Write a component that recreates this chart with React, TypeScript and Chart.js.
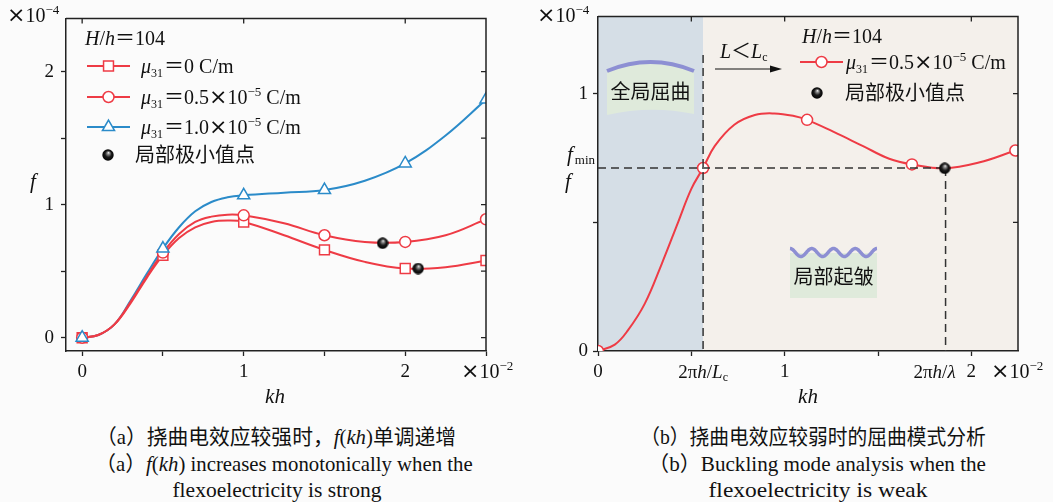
import React, { useEffect, useLayoutEffect, useRef } from 'react';
import { Chart, registerables } from 'chart.js';
import { drawPoint } from 'chart.js/helpers';

Chart.register(...registerables);

const SERIF = '"Liberation Serif", "Times New Roman", serif';
const CJK = '"Noto Sans CJK SC", "Noto Sans CJK JP", sans-serif';
const TIMES_FONT = '"DejaVu Sans", sans-serif';
const RED = '#ee3b45';
const BLUE = '#2b8bc9';
const AXIS = '#222222';
const WAVE = '#8d8fd3';
const GREEN = '#dfeadb';

// ---------- Panel (a): kh (×10^-2) vs f (×10^-4) ----------
const markerKhA = [0, 0.5, 1, 1.5, 2, 2.5];
const markerFmu0 = [0, 0.62, 0.87, 0.66, 0.52, 0.58];
const markerFmu05 = [0, 0.64, 0.92, 0.77, 0.72, 0.89];
const markerFmu10 = [0, 0.67, 1.07, 1.11, 1.31, 1.79];
const curveKhA = [0, 0.1, 0.2, 0.3, 0.4, 0.5, 0.6, 0.7, 0.8, 0.9, 1.0, 1.25, 1.5, 1.75, 2.0, 2.25, 2.5];
const curveFmu0 = [0, 0.02, 0.1, 0.26, 0.45, 0.62, 0.75, 0.83, 0.87, 0.88, 0.87, 0.77, 0.66, 0.57, 0.52, 0.53, 0.58];
const curveFmu05 = [0, 0.02, 0.1, 0.27, 0.46, 0.64, 0.78, 0.87, 0.91, 0.925, 0.92, 0.86, 0.77, 0.72, 0.72, 0.77, 0.89];
const curveFmu10 = [0, 0.02, 0.1, 0.28, 0.48, 0.67, 0.83, 0.95, 1.02, 1.055, 1.07, 1.09, 1.11, 1.18, 1.31, 1.52, 1.79];
const minKhA = [1.86, 2.08];
const minFA = [0.71, 0.52];
const xTicksA = [0, 0.5, 1, 1.5, 2, 2.5];
const xLabelsA = ['0', '', '1', '', '2', ''];
const topTicksA = [0, 1, 2];
const yTicksA = [0, 0.5, 1, 1.5, 2];
const yLabelsA = ['0', '', '1', '', '2'];

// ---------- Panel (b) ----------
const curveKhB = [0, 0.09, 0.16, 0.25, 0.34, 0.43, 0.5, 0.563, 0.625, 0.73, 0.84, 0.945, 1.05, 1.12, 1.26, 1.42, 1.56, 1.682, 1.857, 2.04, 2.236];
const curveFB = [0, 0.025, 0.08, 0.183, 0.336, 0.502, 0.63, 0.711, 0.796, 0.879, 0.917, 0.923, 0.913, 0.898, 0.852, 0.796, 0.747, 0.725, 0.71, 0.732, 0.779];
const markerKhB = [0, 0.563, 1.12, 1.682, 2.236];
const markerFB = [0, 0.711, 0.898, 0.725, 0.779];
const minKhB = [1.857];
const minFB = [0.71];
const khLc = 0.563;
const khLambda = 1.862;
const fMin = 0.711;
const xTicksB = [0, 0.5, 1, 1.5, 2];
const xLabelsB = ['0', '', '1', '', '2'];
const topTicksB = [0.5, 1, 2];
const yTicksB = [0, 0.5, 1];
const yLabelsB = ['0', '', '1'];
const rightTicksB = [0.5, 1];

const captions = [
  { cx: 276, cy: 437, w: 360, key: 'a1' },
  { cx: 284, cy: 464, w: 377, key: 'a2' },
  { cx: 277, cy: 490, w: 209, key: 'a3' },
  { cx: 813, cy: 437, w: 346, key: 'b1' },
  { cx: 817, cy: 464, w: 338, key: 'b2' },
  { cx: 818, cy: 490, w: 219, key: 'b3' },
];

const pts = (xs: number[], ys: number[]) => xs.map((x, i) => ({ x, y: ys[i] }));
const fs = (size: number, italic = false) => `${italic ? 'italic ' : ''}${size}px ${SERIF}`;
const fc = (size: number) => `${size}px ${CJK}`;

type Seg = { t: string; f: string; dy?: number; dx?: number };

function drawRich(ctx: CanvasRenderingContext2D, x: number, y: number, segs: Seg[], align = 'left') {
  ctx.save();
  ctx.textBaseline = 'alphabetic';
  ctx.textAlign = 'left';
  ctx.fillStyle = '#111';
  let w = 0;
  for (const s of segs) {
    ctx.font = s.f;
    w += ctx.measureText(s.t).width + (s.dx || 0);
  }
  let cx = align === 'center' ? x - w / 2 : align === 'right' ? x - w : x;
  for (const s of segs) {
    ctx.font = s.f;
    cx += s.dx || 0;
    ctx.fillText(s.t, cx, y + (s.dy || 0));
    cx += ctx.measureText(s.t).width;
  }
  ctx.restore();
}

const muSegs = (val: Seg[]): Seg[] => [
  { t: 'μ', f: fs(20, true) },
  { t: '31', f: fs(12), dy: 4 },
  { t: '＝', f: fc(20), dx: 1 },
  ...val,
];
const expSegs = (mant: string, exp: string): Seg[] => [
  ...(mant ? [{ t: mant, f: fs(20) }] : []),
  { t: '×', f: `22px ${TIMES_FONT}`, dy: 0 },
  { t: '10', f: fs(20) },
  { t: exp, f: fs(13), dy: -8 },
];
const hhSegs: Seg[] = [
  { t: 'H', f: fs(20, true) },
  { t: '/', f: fs(20) },
  { t: 'h', f: fs(20, true) },
  { t: '＝', f: fc(20) },
  { t: '104', f: fs(20) },
];

function makeBall(d: number) {
  const c = document.createElement('canvas');
  c.width = d;
  c.height = d;
  const g = c.getContext('2d')!;
  const r = d / 2;
  const grad = g.createRadialGradient(r * 1.1, r * 0.6, 0, r, r, r);
  grad.addColorStop(0, '#f4f4f4');
  grad.addColorStop(0.22, '#8a8a8a');
  grad.addColorStop(0.55, '#1a1a1a');
  grad.addColorStop(1, '#000');
  g.fillStyle = grad;
  g.beginPath();
  g.arc(r, r, r - 0.3, 0, Math.PI * 2);
  g.fill();
  return c;
}

function legendMarker(ctx: CanvasRenderingContext2D, x0: number, x1: number, y: number, color: string, style: string, radius: number) {
  ctx.save();
  ctx.strokeStyle = color;
  ctx.lineWidth = 2;
  ctx.beginPath();
  ctx.moveTo(x0, y);
  ctx.lineTo(x1, y);
  ctx.stroke();
  ctx.fillStyle = '#fff';
  ctx.lineWidth = 1.5;
  drawPoint(ctx, { pointStyle: style as any, radius, rotation: 0, borderWidth: 1.5 }, (x0 + x1) / 2, y);
  ctx.restore();
}

function frameAndTicks(chart: any, topTicks: number[], rightTicks: number[]) {
  const { ctx, chartArea: a, scales } = chart;
  ctx.save();
  ctx.strokeStyle = AXIS;
  ctx.lineWidth = 1.5;
  ctx.beginPath();
  ctx.moveTo(a.left, a.top);
  ctx.lineTo(a.right, a.top);
  ctx.lineTo(a.right, a.bottom);
  ctx.stroke();
  ctx.lineWidth = 1.3;
  ctx.beginPath();
  for (const v of topTicks) {
    const px = scales.x.getPixelForValue(v);
    ctx.moveTo(px, a.top);
    ctx.lineTo(px, a.top + 5);
  }
  for (const v of rightTicks) {
    const py = scales.y.getPixelForValue(v);
    ctx.moveTo(a.right, py);
    ctx.lineTo(a.right - 5, py);
  }
  ctx.stroke();
  ctx.restore();
}

function axisScales(o: {
  xmin: number; xmax: number; ymin: number; ymax: number;
  xt: number[]; xl: string[]; yt: number[]; yl: string[]; yw: number; ypad: number;
}) {
  const tickFont = { family: SERIF, size: 19 };
  return {
    x: {
      type: 'linear',
      min: o.xmin,
      max: o.xmax,
      afterBuildTicks: (s: any) => { s.ticks = o.xt.map((v) => ({ value: v })); },
      afterFit: (s: any) => { s.height = 59; },
      ticks: {
        callback: (v: number) => { const i = o.xt.indexOf(v); return i >= 0 ? o.xl[i] : ''; },
        font: tickFont, color: '#111', padding: 5, maxRotation: 0, autoSkip: false,
      },
      grid: { drawOnChartArea: false, tickLength: 5, color: AXIS, tickWidth: 1.3 },
      border: { color: AXIS, width: 1.5 },
    },
    y: {
      type: 'linear',
      min: o.ymin,
      max: o.ymax,
      afterBuildTicks: (s: any) => { s.ticks = o.yt.map((v) => ({ value: v })); },
      afterFit: (s: any) => { s.width = o.yw; },
      ticks: {
        callback: (v: number) => { const i = o.yt.indexOf(v); return i >= 0 ? o.yl[i] : ''; },
        font: tickFont, color: '#111', padding: o.ypad, autoSkip: false,
      },
      grid: { drawOnChartArea: false, tickLength: 5, color: AXIS, tickWidth: 1.3 },
      border: { color: AXIS, width: 1.5 },
    },
  };
}

function LeftChart() {
  const ref = useRef<HTMLCanvasElement>(null);
  useEffect(() => {
    const ball = makeBall(12);
    const plugin = {
      id: 'decoA',
      afterDraw(chart: any) {
        const ctx = chart.ctx as CanvasRenderingContext2D;
        frameAndTicks(chart, topTicksA, yTicksA);
        drawRich(ctx, 7, 22, expSegs('', '−4'));
        drawRich(ctx, 461, 378, expSegs('', '−2'));
        drawRich(ctx, 275, 403, [{ t: 'kh', f: fs(21, true) }], 'center');
        drawRich(ctx, 30, 188, [{ t: 'f', f: fs(21, true) }]);
        drawRich(ctx, 85, 45, hhSegs);
        legendMarker(ctx, 87, 130, 66, RED, 'rect', 7);
        drawRich(ctx, 141, 73, muSegs([{ t: '0 C/m', f: fs(20) }]));
        legendMarker(ctx, 87, 130, 97, RED, 'circle', 5.5);
        drawRich(ctx, 141, 104, muSegs([...expSegs('0.5', '−5'), { t: ' C/m', f: fs(20) }]));
        legendMarker(ctx, 87, 130, 127, BLUE, 'triangle', 7);
        drawRich(ctx, 141, 134, muSegs([...expSegs('1.0', '−5'), { t: ' C/m', f: fs(20) }]));
        ctx.drawImage(ball, 102, 149);
        drawRich(ctx, 135, 162, [{ t: '局部极小值点', f: fc(20) }]);
      },
    };
    const markerDs = (xs: number[], ys: number[], color: string, style: string, r: number, order: number) => ({
      data: pts(xs, ys), showLine: false, pointStyle: style, pointRadius: r,
      pointBorderColor: color, pointBackgroundColor: '#fff', pointBorderWidth: 1.5,
      borderColor: color, order, clip: 0,
    });
    const curveDs = (xs: number[], ys: number[], color: string, order: number) => ({
      data: pts(xs, ys), borderColor: color, borderWidth: 2, pointRadius: 0,
      tension: 0.4, fill: false, order, clip: 0,
    });
    const chart = new Chart(ref.current!, {
      type: 'line',
      data: {
        datasets: [
          { data: pts(minKhA, minFA), showLine: false, pointStyle: ball, pointRadius: 6, order: 0 },
          markerDs(markerKhA, markerFmu10, BLUE, 'triangle', 7, 1),
          markerDs(markerKhA, markerFmu05, RED, 'circle', 5.5, 2),
          markerDs(markerKhA, markerFmu0, RED, 'rect', 7, 3),
          curveDs(curveKhA, curveFmu0, RED, 4),
          curveDs(curveKhA, curveFmu05, RED, 5),
          curveDs(curveKhA, curveFmu10, BLUE, 6),
        ] as any,
      },
      options: {
        responsive: false,
        animation: false,
        events: [],
        layout: { padding: { left: 0, top: 13, right: 44, bottom: 0 } },
        plugins: { legend: { display: false }, tooltip: { enabled: false } },
        scales: axisScales({
          xmin: -0.1, xmax: 2.5, ymin: -0.1, ymax: 2.4,
          xt: xTicksA, xl: xLabelsA, yt: yTicksA, yl: yLabelsA, yw: 66, ypad: 7,
        }) as any,
      },
      plugins: [plugin],
    });
    return () => chart.destroy();
  }, []);
  return <canvas ref={ref} width={530} height={410} style={{ position: 'absolute', left: 0, top: 0, width: 530, height: 410 }} />;
}

function RightChart() {
  const ref = useRef<HTMLCanvasElement>(null);
  useEffect(() => {
    const ball = makeBall(12);
    const plugin = {
      id: 'decoB',
      beforeDraw(chart: any) {
        const { ctx, chartArea: a, scales } = chart;
        const xl = scales.x.getPixelForValue(khLc);
        ctx.save();
        ctx.fillStyle = '#d5dee6';
        ctx.fillRect(a.left, a.top, xl - a.left, a.bottom - a.top);
        ctx.fillStyle = '#f4f0eb';
        ctx.fillRect(xl, a.top, a.right - xl, a.bottom - a.top);
        // global buckling box
        ctx.fillStyle = GREEN;
        ctx.beginPath();
        ctx.moveTo(77, 71);
        ctx.quadraticCurveTo(120.5, 53, 164, 71);
        ctx.lineTo(164, 114);
        ctx.quadraticCurveTo(120.5, 105, 77, 115);
        ctx.closePath();
        ctx.fill();
        ctx.strokeStyle = WAVE;
        ctx.lineWidth = 4;
        ctx.beginPath();
        ctx.moveTo(77, 71);
        ctx.quadraticCurveTo(120.5, 53, 164, 71);
        ctx.stroke();
        // local wrinkling box
        ctx.fillStyle = GREEN;
        ctx.fillRect(260, 253, 87, 45);
        ctx.strokeStyle = WAVE;
        ctx.lineWidth = 3.5;
        ctx.beginPath();
        for (let x = 260; x <= 347; x += 0.5) {
          const y = 252.5 - 4 * Math.cos((2 * Math.PI * (x - 260)) / 21.75);
          if (x === 260) ctx.moveTo(x, y); else ctx.lineTo(x, y);
        }
        ctx.stroke();
        ctx.restore();
        drawRich(ctx, 120.5, 99, [{ t: '全局屈曲', f: fc(20) }], 'center');
        drawRich(ctx, 303.5, 284, [{ t: '局部起皱', f: fc(20) }], 'center');
      },
      beforeDatasetDraw(chart: any, args: any) {
        if (args.index !== 0) return;
        const { ctx, chartArea: a, scales } = chart;
        const x1 = scales.x.getPixelForValue(khLc);
        const x2 = scales.x.getPixelForValue(khLambda);
        const yf = scales.y.getPixelForValue(fMin);
        ctx.save();
        ctx.strokeStyle = '#333';
        ctx.lineWidth = 1.5;
        ctx.setLineDash([8, 5]);
        ctx.beginPath();
        ctx.moveTo(x1, scales.y.getPixelForValue(1.15));
        ctx.lineTo(x1, a.bottom);
        ctx.moveTo(a.left, yf);
        ctx.lineTo(x2, yf);
        ctx.moveTo(x2, yf);
        ctx.lineTo(x2, a.bottom);
        ctx.stroke();
        ctx.restore();
      },
      afterDraw(chart: any) {
        const ctx = chart.ctx as CanvasRenderingContext2D;
        frameAndTicks(chart, topTicksB, rightTicksB);
        drawRich(ctx, 7, 22, expSegs('', '−4'));
        drawRich(ctx, 461, 378, expSegs('', '−2'));
        drawRich(ctx, 278, 403, [{ t: 'kh', f: fs(21, true) }], 'center');
        drawRich(ctx, 35, 188, [{ t: 'f', f: fs(21, true) }]);
        drawRich(ctx, 37, 161, [{ t: 'f', f: fs(21, true) }, { t: 'min', f: fs(13), dy: 3, dx: 2 }]);
        const xs = chart.scales.x;
        drawRich(ctx, xs.getPixelForValue(khLc), 378, [
          { t: '2π', f: fs(19) }, { t: 'h', f: fs(19, true) }, { t: '/', f: fs(19) },
          { t: 'L', f: fs(19, true) }, { t: 'c', f: fs(12), dy: 3 },
        ], 'center');
        drawRich(ctx, xs.getPixelForValue(khLambda) - 11, 378, [
          { t: '2π', f: fs(19) }, { t: 'h', f: fs(19, true) }, { t: '/', f: fs(19) }, { t: 'λ', f: fs(19, true) },
        ], 'center');
        drawRich(ctx, 272, 43, hhSegs);
        legendMarker(ctx, 270, 313, 62, RED, 'circle', 5.5);
        drawRich(ctx, 316, 69, muSegs([...expSegs('0.5', '−5'), { t: ' C/m', f: fs(20) }]));
        ctx.drawImage(ball, 281, 87);
        drawRich(ctx, 315, 100, [{ t: '局部极小值点', f: fc(20) }]);
        drawRich(ctx, 190, 58, [
          { t: 'L', f: fs(20, true) }, { t: '＜', f: fc(20) }, { t: 'L', f: fs(20, true) }, { t: 'c', f: fs(12), dy: 3 },
        ]);
        ctx.save();
        ctx.strokeStyle = '#111';
        ctx.fillStyle = '#111';
        ctx.lineWidth = 1.2;
        ctx.beginPath();
        ctx.moveTo(185, 69);
        ctx.lineTo(244, 69);
        ctx.stroke();
        ctx.beginPath();
        ctx.moveTo(252, 69);
        ctx.lineTo(240, 65.5);
        ctx.lineTo(240, 72.5);
        ctx.closePath();
        ctx.fill();
        ctx.restore();
      },
    };
    const chart = new Chart(ref.current!, {
      type: 'line',
      data: {
        datasets: [
          { data: pts(minKhB, minFB), showLine: false, pointStyle: ball, pointRadius: 6, order: 0 },
          {
            data: pts(markerKhB, markerFB), showLine: false, pointStyle: 'circle', pointRadius: 5.5,
            pointBorderColor: RED, pointBackgroundColor: '#fff', pointBorderWidth: 1.5, borderColor: RED, order: 1, clip: 0,
          },
          { data: pts(curveKhB, curveFB), borderColor: RED, borderWidth: 2, pointRadius: 0, tension: 0.4, fill: false, order: 2, clip: 0 },
        ] as any,
      },
      options: {
        responsive: false,
        animation: false,
        events: [],
        layout: { padding: { left: 0, top: 13, right: 35, bottom: 0 } },
        plugins: { legend: { display: false }, tooltip: { enabled: false } },
        scales: axisScales({
          xmin: 0, xmax: 2.25, ymin: 0, ymax: 1.3,
          xt: xTicksB, xl: xLabelsB, yt: yTicksB, yl: yLabelsB, yw: 68, ypad: 5,
        }) as any,
      },
      plugins: [plugin],
    });
    return () => chart.destroy();
  }, []);
  return <canvas ref={ref} width={523} height={410} style={{ position: 'absolute', left: 530, top: 0, width: 523, height: 410 }} />;
}

function Captions() {
  const refs = useRef<(HTMLDivElement | null)[]>([]);
  useLayoutEffect(() => {
    captions.forEach((c, i) => {
      const el = refs.current[i];
      if (!el) return;
      const s = c.w / el.offsetWidth;
      el.style.transform = `translate(-50%, -50%) scaleX(${s})`;
    });
  }, []);
  const content: Record<string, React.ReactNode> = {
    a1: <>（a）挠曲电效应较强时，<i>f</i>(<i>kh</i>)单调递增</>,
    a2: <>（a）<i>f</i>(<i>kh</i>) increases monotonically when the</>,
    a3: <>flexoelectricity is strong</>,
    b1: <>（b）挠曲电效应较弱时的屈曲模式分析</>,
    b2: <>（b）Buckling mode analysis when the</>,
    b3: <>flexoelectricity is weak</>,
  };
  return (
    <>
      {captions.map((c, i) => (
        <div
          key={c.key}
          ref={(el) => { refs.current[i] = el; }}
          style={{
            position: 'absolute', left: c.cx, top: c.cy, whiteSpace: 'nowrap',
            fontFamily: `"Liberation Serif", "Noto Sans CJK SC", serif`, fontSize: 21, lineHeight: '24px',
            color: '#111', transform: 'translate(-50%, -50%)',
          }}
        >
          {content[c.key]}
        </div>
      ))}
    </>
  );
}

export default function App() {
  return (
    <div style={{ position: 'absolute', left: 0, top: 0, width: 1053, height: 502, background: '#fbfbfb', overflow: 'hidden' }}>
      <LeftChart />
      <RightChart />
      <Captions />
    </div>
  );
}
